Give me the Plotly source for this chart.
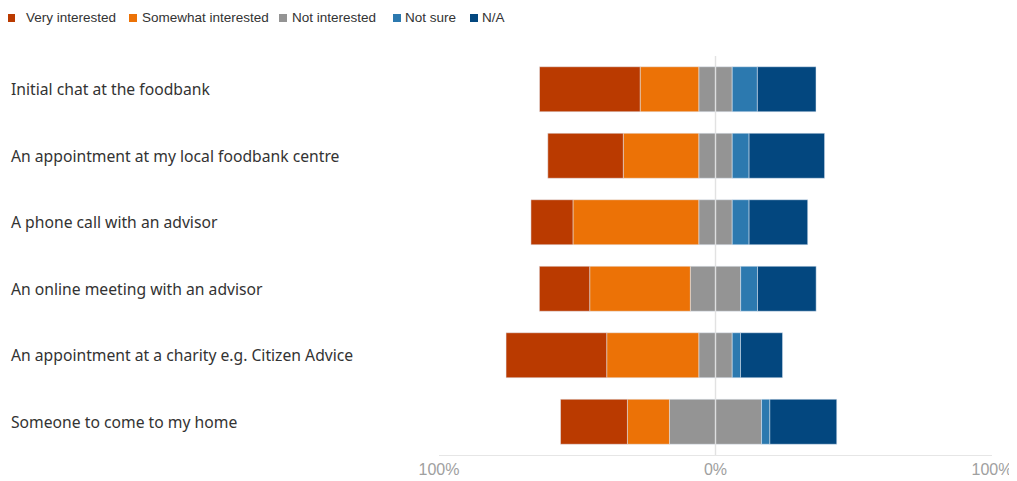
import plotly.graph_objects as go

categories = [
    "Initial chat at the foodbank",
    "An appointment at my local foodbank centre",
    "A phone call with an advisor",
    "An online meeting with an advisor",
    "An appointment at a charity e.g. Citizen Advice",
    "Someone to come to my home",
]
very_interested = [36.4, 27.3, 15.2, 18.2, 36.4, 24.2]
somewhat_interested = [21.2, 27.3, 45.5, 36.4, 33.3, 15.2]
not_interested = [12.1, 12.1, 12.1, 18.2, 12.1, 33.3]
not_sure = [9.1, 6.1, 6.1, 6.1, 3.0, 3.0]
n_a = [21.2, 27.3, 21.2, 21.2, 15.2, 24.2]

tick_vals = [-100, 0, 100]
tick_text = ["100%", "0%", "100%"]

colors = {
    "Very interested": "#BA3A00",
    "Somewhat interested": "#EC7206",
    "Not interested": "#949494",
    "Not sure": "#2C79AF",
    "N/A": "#03477F",
}

# The page body has an 8px margin, so the figure is drawn 8px in from the window edge.
OFF = 8
W, H = 1017 - OFF, 481 - OFF
# plot area in window pixels
PL, PR, PT, PB = 439, 992, 56, 455
L, R, T, B = PL - OFF, W - (PR - OFF), PT - OFF, H - (PB - OFF)
PW, PH = W - L - R, H - T - B


def px_x(px):
    return (px - PL) / PW


def px_y(py):
    return 1 - (py - PT) / PH


fig = go.Figure()
bw = 0.677
fig.add_bar(y=categories, x=[-v / 2 for v in not_interested], orientation="h",
            marker_color=colors["Not interested"], width=bw, showlegend=False)
fig.add_bar(y=categories, x=[-v for v in somewhat_interested], orientation="h",
            marker_color=colors["Somewhat interested"], width=bw, showlegend=False)
fig.add_bar(y=categories, x=[-v for v in very_interested], orientation="h",
            marker_color=colors["Very interested"], width=bw, showlegend=False)
fig.add_bar(y=categories, x=[v / 2 for v in not_interested], orientation="h",
            marker_color=colors["Not interested"], width=bw, showlegend=False)
fig.add_bar(y=categories, x=not_sure, orientation="h",
            marker_color=colors["Not sure"], width=bw, showlegend=False)
fig.add_bar(y=categories, x=n_a, orientation="h",
            marker_color=colors["N/A"], width=bw, showlegend=False)

annotations = []
for cat in categories:
    annotations.append(dict(
        x=px_x(10), xref="paper", y=cat, yref="y", text=cat, showarrow=False,
        xanchor="left", yanchor="middle", borderpad=0,
        font=dict(family="Noto Sans", size=15.7, color="#333333"),
    ))

shapes = []
legend_items = [
    ("Very interested", 7, 25),
    ("Somewhat interested", 129, 141),
    ("Not interested", 279, 291),
    ("Not sure", 393, 404),
    ("N/A", 470, 481),
]
for name, sx, tx in legend_items:
    shapes.append(dict(type="rect", xref="paper", yref="paper",
                       x0=px_x(sx), x1=px_x(sx + 8), y0=px_y(22), y1=px_y(14),
                       fillcolor=colors[name], line=dict(width=0)))
    annotations.append(dict(
        x=px_x(tx), xref="paper", y=px_y(18), yref="paper", text=name,
        showarrow=False, xanchor="left", yanchor="middle", borderpad=0,
        font=dict(family="Liberation Sans", size=13.5, color="#333333"),
    ))

shapes.append(dict(type="line", xref="x", yref="paper", x0=0, x1=0, y0=0, y1=1,
                   layer="above", line=dict(color="rgba(225,225,225,0.8)", width=1.5)))

fig.update_layout(
    width=W, height=H,
    margin=dict(l=L, r=R, t=T, b=B, autoexpand=False),
    barmode="relative",
    plot_bgcolor="white",
    paper_bgcolor="white",
    showlegend=False,
    annotations=annotations,
    shapes=shapes,
    xaxis=dict(range=[-100, 100], tickvals=tick_vals, ticktext=tick_text,
               showgrid=True, gridcolor="#E6E6E6", gridwidth=1, automargin=False,
               zeroline=False, showline=True, linecolor="#E6E6E6", linewidth=1,
               tickfont=dict(family="Liberation Sans", size=16, color="#A0A0A0"),
               ticks="", fixedrange=True),
    yaxis=dict(autorange="reversed", showticklabels=False, showgrid=False,
               automargin=False, zeroline=False, showline=False, ticks=""),
)

fig.write_html("out.html")
